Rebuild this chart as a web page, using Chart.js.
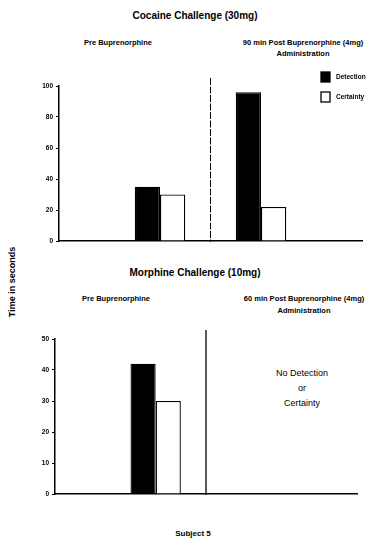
<!DOCTYPE html>
<html>
<head>
<meta charset="utf-8">
<script src="https://cdn.jsdelivr.net/npm/chart.js@4.4.1/dist/chart.umd.min.js"></script>
<style>
  html, body { margin: 0; padding: 0; background: #fff; }
  #page { position: relative; width: 387px; height: 538px; overflow: hidden; font-family: "Liberation Sans", Arial, sans-serif; color: #000; }
  .t { position: absolute; white-space: nowrap; transform: translate(-50%, -50%); font-weight: bold; }
  .wrap { position: absolute; left: 0; width: 387px; height: 190px; }
</style>
</head>
<body>
<div id="page">
  <div class="t" style="left:195px;top:15px;font-size:10px;">Cocaine Challenge (30mg)</div>
  <div class="t" style="left:118px;top:42px;font-size:7.5px;">Pre Buprenorphine</div>
  <div class="t" style="left:303px;top:42px;font-size:7.5px;">90 min Post Buprenorphine (4mg)</div>
  <div class="t" style="left:303px;top:53px;font-size:7.5px;">Administration</div>

  <div class="t" style="left:195px;top:272px;font-size:10px;">Morphine Challenge (10mg)</div>
  <div class="t" style="left:116px;top:298px;font-size:7.5px;">Pre Buprenorphine</div>
  <div class="t" style="left:304px;top:298px;font-size:7.5px;">60 min Post Buprenorphine (4mg)</div>
  <div class="t" style="left:304px;top:310px;font-size:7.5px;">Administration</div>

  <div class="t" style="left:302px;top:373px;font-size:9px;font-weight:normal;">No Detection</div>
  <div class="t" style="left:302px;top:388px;font-size:9px;font-weight:normal;">or</div>
  <div class="t" style="left:302px;top:403px;font-size:9px;font-weight:normal;">Certainty</div>

  <div class="t" style="left:12px;top:282px;font-size:9px;transform:translate(-50%,-50%) rotate(-90deg);">Time in seconds</div>
  <div class="t" style="left:193px;top:533px;font-size:8px;">Subject 5</div>

  <div class="wrap" style="top:60px;"><canvas id="cocaineChart" width="387" height="190"></canvas></div>
  <div class="wrap" style="top:320px;"><canvas id="morphineChart" width="387" height="190"></canvas></div>
</div>

<script>
// categorias: dos columnas reales con un hueco a cada lado
const groups = ['', 'Pre Buprenorphine', 'Post Buprenorphine', ''];
const seriesNames = ['Detection', 'Certainty'];

const cocaineDetection = [null, 35, 96, null];
const cocaineCertainty = [null, 30, 22, null];
const morphineDetection = [null, 42, null, null];
const morphineCertainty = [null, 30, null, null];

const cocaineTicks = [0, 20, 40, 60, 80, 100];
const morphineTicks = [0, 10, 20, 30, 40, 50];

// linea vertical entre "Pre" y "Post"
const dividerPlugin = {
    id: 'divider',
    afterDatasetsDraw(chart, args, opts) {
        const x = chart.scales.x;
        const px = (x.getPixelForValue(1) + x.getPixelForValue(2)) / 2;
        const ctx = chart.ctx;
        ctx.save();
        ctx.strokeStyle = '#000';
        ctx.lineWidth = opts.width || 1.3;
        ctx.setLineDash(opts.dash || []);
        ctx.beginPath();
        ctx.moveTo(px, chart.chartArea.top - (opts.above || 0));
        ctx.lineTo(px, chart.chartArea.bottom + 1);
        ctx.stroke();
        ctx.restore();
    }
};

// leyenda pequeña arriba a la derecha
const boxLegendPlugin = {
    id: 'boxLegend',
    afterDraw(chart, args, opts) {
        if (!opts.show) return;
        const ctx = chart.ctx;
        ctx.save();
        chart.data.datasets.forEach((ds, i) => {
            const y = opts.y + i * opts.gap;
            ctx.fillStyle = ds.backgroundColor;
            ctx.fillRect(opts.x, y, 9, 10);
            ctx.strokeStyle = '#000';
            ctx.lineWidth = 1.3;
            ctx.strokeRect(opts.x, y, 9, 10);
            ctx.fillStyle = '#000';
            ctx.font = 'bold 6.5px "Liberation Sans", Arial';
            ctx.textBaseline = 'middle';
            ctx.fillText(ds.label, opts.x + 15, y + 5);
        });
        ctx.restore();
    }
};

function makeChart(id, det, cert, ticks, axisW, pad, divider, legend) {
    return new Chart(document.getElementById(id), {
        type: 'bar',
        data: {
            labels: groups,
            datasets: [{
                label: seriesNames[0],
                data: det,
                backgroundColor: '#000',
                borderColor: '#000',
                borderWidth: 1.3
            }, {
                label: seriesNames[1],
                data: cert,
                backgroundColor: '#fff',
                borderColor: '#000',
                borderWidth: 1.3
            }]
        },
        options: {
            responsive: false,
            animation: false,
            categoryPercentage: 0.5,
            barPercentage: 1.0,
            layout: { padding: pad },
            plugins: {
                legend: { display: false },
                tooltip: { enabled: false },
                divider: divider,
                boxLegend: legend
            },
            scales: {
                x: {
                    offset: false,
                    grid: { display: false },
                    border: { color: '#000', width: 1.5 },
                    ticks: { display: false },
                    afterFit: (s) => { s.height = 0; }
                },
                y: {
                    min: ticks[0],
                    max: ticks[ticks.length - 1],
                    afterBuildTicks: (s) => { s.ticks = ticks.map(v => ({ value: v })); },
                    afterFit: (s) => { s.width = axisW; },
                    grid: { drawOnChartArea: false, tickLength: 3, color: '#000', lineWidth: 1 },
                    border: { color: '#000', width: 1.5 },
                    ticks: {
                        color: '#000',
                        padding: 3,
                        font: { family: '"Liberation Sans", Arial', size: 6.5, weight: 'bold' }
                    }
                }
            }
        },
        plugins: [dividerPlugin, boxLegendPlugin]
    });
}

makeChart('cocaineChart', cocaineDetection, cocaineCertainty, cocaineTicks, 59,
    { top: 26, right: 25, bottom: 9, left: 0 },
    { dash: [7, 1.5], width: 1, above: 8 },
    { show: true, x: 321, y: 12, gap: 20 });

makeChart('morphineChart', morphineDetection, morphineCertainty, morphineTicks, 55,
    { top: 19, right: 30, bottom: 16, left: 0 },
    { dash: [], width: 1.3, above: 9 },
    { show: false });
</script>
</body>
</html>
